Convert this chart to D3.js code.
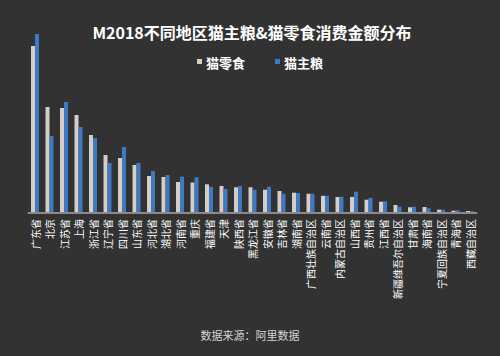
<!DOCTYPE html>
<html><head><meta charset="utf-8">
<script src="https://cdn.jsdelivr.net/npm/d3@7/dist/d3.min.js"></script>
<style>
html,body{margin:0;padding:0;background:#323232;}
svg{display:block;}
text{font-family:"Noto Sans CJK SC","Noto Sans",sans-serif;}
</style></head>
<body>
<svg id="c" width="500" height="356"></svg>
<script>
const categories = ["广东省","北京","江苏省","上海","浙江省","辽宁省","四川省","山东省","河北省","湖北省","河南省","重庆","福建省","天津","陕西省","黑龙江省","安徽省","吉林省","湖南省","广西壮族自治区","云南省","内蒙古自治区","山西省","贵州省","江西省","新疆维吾尔自治区","甘肃省","海南省","宁夏回族自治区","青海省","西藏自治区"];
const snackValues = [166,105,104,97,77,57,54,47,36,35,30,29.5,27.7,26,24.7,24.7,22.3,21,19.3,18.3,16.2,15,15,12.3,10.3,7,4.7,5,2.3,1.3,1];
const mainValues  = [178,76,110,85,74,49,65,49,41,37,35.3,34.7,25.3,23,26,22.3,25.3,18.3,19,18.3,16.2,15.3,20.3,14,10.7,5.3,5.3,3.7,2.3,1.7,0.7];
const seriesNames = ["猫零食","猫主粮"];
const seriesColors = ["#d6cdc6","#3e7ac3"];
const title = "M2018不同地区猫主粮&猫零食消费金额分布";
const source = "数据来源：阿里数据";

const svg = d3.select("#c");
const baseY = 212;
const x = d3.scaleBand().domain(categories).range([27.75, 477.25]).paddingInner(0.45).paddingOuter(0.225);
const x1 = d3.scaleBand().domain([0,1]).range([0, x.bandwidth()]);
const y = d3.scaleLinear().domain([0, 180]).range([baseY, baseY - 180]);

const data = categories.map((c,i)=>({c, v:[snackValues[i], mainValues[i]]}));
const g = svg.append("g");
g.selectAll("g.cat").data(data).join("g").attr("class","cat")
  .attr("transform", d=>`translate(${x(d.c)},0)`)
  .selectAll("rect").data(d=>d.v.map((v,k)=>({v,k}))).join("rect")
  .attr("x", d=>x1(d.k)).attr("width", x1.bandwidth())
  .attr("y", d=>y(d.v)).attr("height", d=>y(0)-y(d.v))
  .attr("fill", d=>seriesColors[d.k]);

// axis
const ax = svg.append("g").attr("transform",`translate(0,${baseY})`)
  .call(d3.axisBottom(x).tickSize(0).tickPadding(0));
ax.select(".domain").attr("stroke","#8a8a8a").attr("stroke-width",2)
  .attr("d", `M${x.range()[0]},1H${x.range()[1]}`);
ax.selectAll(".tick text")
  .attr("fill","#ffffff").attr("font-size",10)
  .attr("transform","rotate(-90)")
  .attr("text-anchor","end")
  .attr("dominant-baseline","central")
  .attr("x",-7).attr("y",0).attr("dy",null);

svg.append("text").attr("x",252).attr("y",39).attr("text-anchor","middle")
  .attr("fill","#fff").attr("font-size",16).attr("font-weight","bold").text(title);

// legend
const legX = [197, 275];
seriesNames.forEach((n,i)=>{
  svg.append("rect").attr("x",legX[i]).attr("y",59).attr("width",5).attr("height",5).attr("fill",seriesColors[i]);
  svg.append("text").attr("x",legX[i]+9).attr("y",67.5).attr("fill","#fff")
    .attr("font-size",13).attr("font-weight","bold").text(n);
});

svg.append("text").attr("x",250).attr("y",340).attr("text-anchor","middle")
  .attr("fill","#d4d4d4").attr("font-size",11).text(source);
</script>
</body></html>
